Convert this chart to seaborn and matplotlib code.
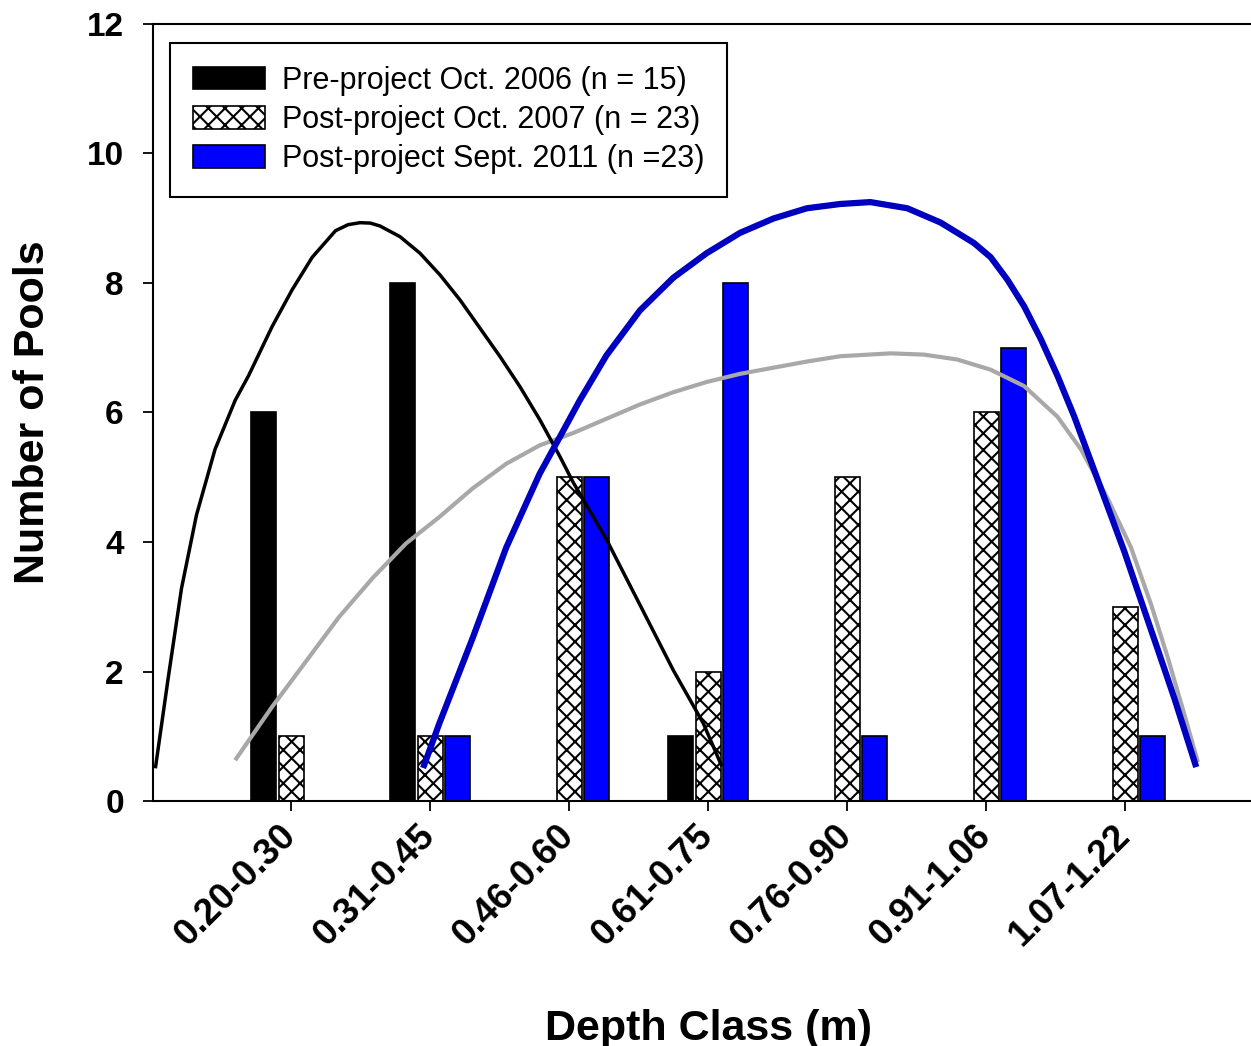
import numpy as np
import pandas as pd
import matplotlib
matplotlib.use("Agg")
import matplotlib.pyplot as plt
import seaborn as sns

# Pool counts per depth class
depth_classes = ["0.20-0.30", "0.31-0.45", "0.46-0.60", "0.61-0.75",
                 "0.76-0.90", "0.91-1.06", "1.07-1.22"]
pre_2006 = [6, 8, 0, 1, 0, 0, 0]
post_2007 = [1, 1, 5, 2, 5, 6, 3]
post_2011 = [0, 1, 5, 8, 1, 7, 1]
series_labels = ["Pre-project Oct. 2006 (n = 15)",
                 "Post-project Oct. 2007 (n = 23)",
                 "Post-project Sept. 2011 (n =23)"]

# Trend curves (x = depth class position)
curve_2006_x = [-0.976, -0.884, -0.788, -0.680, -0.547, -0.402, -0.306, -0.137, 0.007,
                0.152, 0.320, 0.410, 0.496, 0.570, 0.640, 0.784, 0.928, 1.072, 1.216,
                1.360, 1.504, 1.647, 1.791, 1.935, 2.029, 2.269, 2.510, 2.750, 2.966, 3.099]
curve_2006_y = [0.505, 1.894, 3.283, 4.419, 5.429, 6.187, 6.566, 7.323, 7.891,
                8.396, 8.807, 8.900, 8.931, 8.925, 8.880, 8.715, 8.459, 8.124, 7.737,
                7.300, 6.862, 6.398, 5.884, 5.317, 4.924, 4.040, 3.030, 2.020, 1.199, 0.537]

curve_2007_x = [-0.402, -0.137, 0.104, 0.345, 0.586, 0.827, 1.068, 1.308, 1.548, 1.788,
                2.029, 2.269, 2.510, 2.750, 2.990, 3.231, 3.471, 3.712, 3.952, 4.313,
                4.553, 4.793, 5.034, 5.274, 5.514, 5.683, 5.875, 6.043, 6.188, 6.308,
                6.428, 6.524]
curve_2007_y = [0.631, 1.452, 2.146, 2.841, 3.441, 3.977, 4.388, 4.830, 5.208, 5.492,
                5.682, 5.903, 6.124, 6.313, 6.471, 6.597, 6.692, 6.787, 6.869, 6.913,
                6.894, 6.818, 6.660, 6.408, 5.934, 5.429, 4.672, 3.914, 3.030, 2.210,
                1.326, 0.600]

curve_2011_x = [0.950, 1.067, 1.308, 1.548, 1.788, 1.933, 2.077, 2.269, 2.510, 2.750,
                2.990, 3.231, 3.471, 3.712, 3.952, 4.168, 4.433, 4.673, 4.913, 5.034,
                5.154, 5.274, 5.394, 5.514, 5.635, 5.755, 5.875, 5.995, 6.115, 6.236,
                6.356, 6.512]
curve_2011_y = [0.510, 1.199, 2.525, 3.914, 5.051, 5.619, 6.187, 6.881, 7.576, 8.081,
                8.460, 8.775, 8.996, 9.154, 9.220, 9.249, 9.154, 8.933, 8.617, 8.396,
                8.049, 7.639, 7.134, 6.566, 5.934, 5.240, 4.545, 3.851, 3.093, 2.336,
                1.578, 0.524]

sns.set_style("ticks")
plt.rcParams['font.family'] = ['Liberation Sans', 'DejaVu Sans']
plt.rcParams['hatch.linewidth'] = 1.5
for key in ['text.color', 'axes.labelcolor', 'xtick.color', 'ytick.color']:
    plt.rcParams[key] = 'black'

# long table for seaborn
df = pd.DataFrame({
    "depth": depth_classes * 3,
    "pools": pre_2006 + post_2007 + post_2011,
    "survey": np.repeat(series_labels, len(depth_classes)),
})

fig = plt.figure(figsize=(12.51, 10.46), dpi=100)
ax = fig.add_axes([0.1223, 0.2342, 0.8777, 0.7429])

sns.barplot(data=df, x="depth", y="pools", hue="survey", order=depth_classes,
            hue_order=series_labels, palette=["black", "white", "#0000FF"],
            saturation=1, width=0.6, gap=0.1, edgecolor="black", linewidth=1.2,
            errorbar=None, legend=False, ax=ax)

for bar in ax.containers[1]:
    bar.set_hatch("xx")

ax.plot(curve_2007_x, curve_2007_y, color="#A8A8A8", lw=3.0, solid_capstyle="butt",
        solid_joinstyle="round")
ax.plot(curve_2006_x, curve_2006_y, color="black", lw=2.5, solid_capstyle="butt",
        solid_joinstyle="round")
ax.plot(curve_2011_x, curve_2011_y, color="#0000C0", lw=4.5, solid_capstyle="butt",
        solid_joinstyle="round")

ax.set_xlim(-0.993, 6.906)
ax.set_ylim(0, 12)
ax.set_yticks(range(0, 13, 2))
ax.set_xticks(range(len(depth_classes)))
ax.set_xticklabels(depth_classes, rotation=45, ha="right", va="center",
                   rotation_mode="anchor", fontweight="bold", fontsize=26.5)
for lab in ax.get_yticklabels():
    lab.set_fontweight("bold")
    lab.set_fontsize(24)
ax.tick_params(axis="both", direction="out", length=7, width=1.3, color="black")
ax.tick_params(axis="x", pad=14)
ax.tick_params(axis="y", pad=14)

for side in ["left", "bottom", "top"]:
    ax.spines[side].set_visible(True)
    ax.spines[side].set_linewidth(1.5)
    ax.spines[side].set_color("black")
ax.spines["right"].set_visible(False)

ax.set_xlabel("Depth Class (m)", fontsize=31, fontweight="bold")
ax.set_ylabel("Number of Pools", fontsize=31, fontweight="bold")
ax.xaxis.set_label_coords(0.5055, -0.267)
ax.yaxis.set_label_coords(-0.091, 0.5)

leg = ax.legend(ax.containers[:3], series_labels, loc="upper left",
                bbox_to_anchor=(0.0155, 0.9755), borderaxespad=0, fontsize=22,
                handlelength=2.35, handleheight=0.75, handletextpad=0.55,
                labelspacing=0.3, borderpad=0.75, frameon=True, fancybox=False,
                edgecolor="black", framealpha=1)
leg.get_frame().set_linewidth(1.5)

fig.savefig("out.png", dpi=100)
